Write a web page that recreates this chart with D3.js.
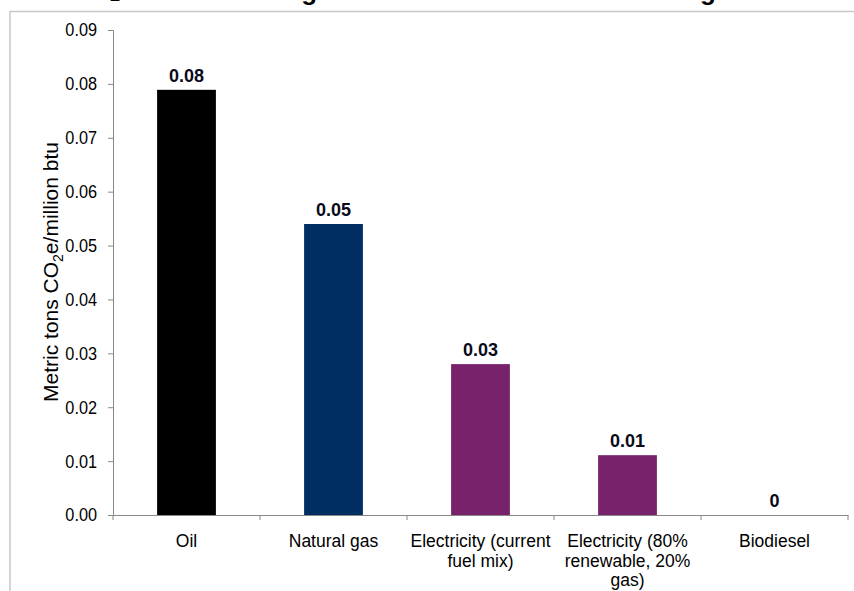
<!DOCTYPE html>
<html>
<head>
<meta charset="utf-8">
<script src="https://cdn.jsdelivr.net/npm/d3@7"></script>
<style>
  html, body { margin: 0; padding: 0; background: #fff; }
  svg { display: block; }
  text { font-family: Arial, "Liberation Sans", sans-serif; }
</style>
</head>
<body>
<svg id="chart" width="854" height="591"></svg>
<script>
const categories = ["Oil", "Natural gas", "Electricity (current fuel mix)", "Electricity (80% renewable, 20% gas)", "Biodiesel"];
const categoryLines = [["Oil"], ["Natural gas"], ["Electricity (current", "fuel mix)"], ["Electricity (80%", "renewable, 20%", "gas)"], ["Biodiesel"]];
const values = [0.0789, 0.054, 0.028, 0.0111, 0];
const valueLabels = ["0.08", "0.05", "0.03", "0.01", "0"];
const barColors = ["#000000", "#002D62", "#77226B", "#77226B", "#77226B"];
const yTicks = [0, 0.01, 0.02, 0.03, 0.04, 0.05, 0.06, 0.07, 0.08, 0.09];
const titleText = "CO\u2082e Greenhouse gas emissions factors for heating fuels";

(function () {
const svg = d3.select("#chart");
const W = 854, H = 591;
const mLeft = 113, mRight = 848, mTop = 30, mBottom = 515;

// clipped title at top
svg.append("text")
  .attr("x", W / 2).attr("y", -0.5)
  .attr("text-anchor", "middle")
  .attr("font-size", 26).attr("font-weight", "bold")
  .attr("fill", "#000")
  .text(titleText);

// panel border
svg.append("line").attr("x1", 10).attr("x2", W).attr("y1", 11.5).attr("y2", 11.5)
  .attr("stroke", "#c8c8c8").attr("stroke-width", 1.5);
svg.append("line").attr("x1", 10).attr("x2", 10).attr("y1", 11).attr("y2", H)
  .attr("stroke", "#c8c8c8").attr("stroke-width", 1.5);

const x = d3.scaleBand().domain(categories).range([mLeft, mRight]).paddingInner(0).paddingOuter(0);
const y = d3.scaleLinear().domain([0, 0.09]).range([mBottom, mTop]);

// y axis
const yAxis = d3.axisLeft(y).tickValues(yTicks).tickFormat(d3.format(".2f")).tickSize(5).tickPadding(8);
const gy = svg.append("g").attr("transform", `translate(${mLeft},0)`).call(yAxis);
gy.select(".domain").attr("stroke", "#888");
gy.selectAll(".tick line").attr("stroke", "#888");
gy.selectAll(".tick text").attr("font-size", 18.5).attr("fill", "#000")
  .attr("font-family", "Arial, 'Liberation Sans', sans-serif")
  .attr("x", 0)
  .attr("transform", "translate(-16,0) scale(0.88,1)");

// x axis
const xAxis = d3.axisBottom(x).tickSize(0).tickFormat("");
const gx = svg.append("g").attr("transform", `translate(0,${mBottom})`).call(xAxis);
gx.select(".domain").attr("stroke", "#888");
const bounds = categories.map(c => x(c)).concat([x(categories[categories.length - 1]) + x.bandwidth()]);
gx.selectAll(".bound").data(bounds).enter().append("line")
  .attr("x1", d => d).attr("x2", d => d).attr("y1", 0).attr("y2", 5)
  .attr("stroke", "#888");

// x labels
categories.forEach((c, i) => {
  const cx = x(c) + x.bandwidth() / 2;
  const t = svg.append("text")
    .attr("x", cx)
    .attr("y", 547)
    .attr("text-anchor", "middle")
    .attr("font-size", 17.5)
    .attr("fill", "#000");
  categoryLines[i].forEach((ln, j) => {
    t.append("tspan").attr("x", cx).attr("dy", j === 0 ? 0 : 19.5).text(ln);
  });
});

// bars
const bw = x.bandwidth() * 0.4;
svg.selectAll(".bar").data(values).enter().append("rect")
  .attr("x", (d, i) => x(categories[i]) + (x.bandwidth() - bw) / 2)
  .attr("y", d => y(d))
  .attr("width", bw)
  .attr("height", d => mBottom - y(d))
  .attr("fill", (d, i) => barColors[i]);

// value labels
svg.selectAll(".vl").data(values).enter().append("text")
  .attr("x", (d, i) => x(categories[i]) + x.bandwidth() / 2)
  .attr("y", d => y(d) - 8)
  .attr("text-anchor", "middle")
  .attr("font-size", 18).attr("font-weight", "bold")
  .attr("fill", "#0a0a1a")
  .text((d, i) => valueLabels[i]);

// y axis title
const yt = svg.append("text")
  .attr("transform", `translate(58,272) rotate(-90)`)
  .attr("text-anchor", "middle")
  .attr("font-size", 21)
  .attr("fill", "#000");
yt.append("tspan").text("Metric tons CO");
yt.append("tspan").attr("font-size", 14).attr("dy", 5).text("2");
yt.append("tspan").attr("dy", -5).text("e/million btu");
})();
</script>
</body>
</html>
